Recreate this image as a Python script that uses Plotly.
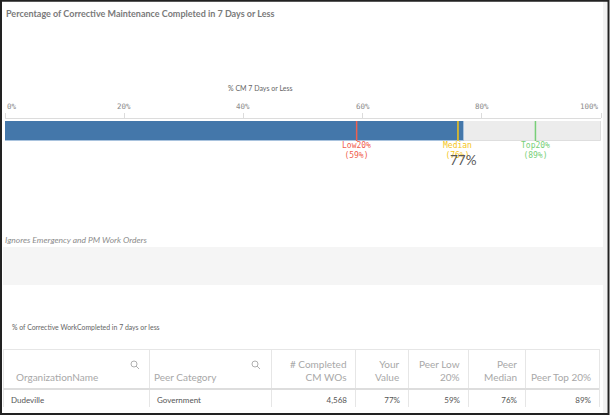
import plotly.graph_objects as go

W, H = 610, 416

# ---- data ----
title_text = "Percentage of Corrective Maintenance Completed in 7 Days or Less"
axis_title = "% CM 7 Days or Less"
tick_vals = [0, 20, 40, 60, 80, 100]
tick_text = ["0%", "20%", "40%", "60%", "80%", "100%"]
axis_max = 100
your_value = 77
ref_names = ["Low20%", "Median", "Top20%"]
ref_values = [59, 76, 89]
ref_colors = ["#f0604f", "#f5c518", "#78cf78"]
note_text = "Ignores Emergency and PM Work Orders"
table_title = "% of Corrective WorkCompleted in 7 days or less"

col_headers = ["OrganizationName", "Peer Category", "# Completed<br>CM WOs", "Your<br>Value",
               "Peer Low<br>20%", "Peer<br>Median", "Peer Top 20%"]
col_align = ["left", "left", "right", "right", "right", "right", "right"]
org_names = ["Dudeville"]
peer_categories = ["Government"]
completed_wos = [4568]
your_values = [77]
peer_low = [59]
peer_median = [76]
peer_top = [89]


def px(x):
    return x / W


def py(y):
    return 1 - y / H


fig = go.Figure()

# track and value bars
fig.add_trace(go.Bar(x=[axis_max], y=[0], orientation="h", width=1,
                     marker=dict(color="#ececec", line=dict(color="#dedede", width=1)),
                     hoverinfo="skip", showlegend=False))
fig.add_trace(go.Bar(x=[your_value], y=[0], orientation="h", width=1,
                     marker=dict(color="#4477aa", line=dict(color="#a9c3de", width=1)),
                     hoverinfo="skip", showlegend=False))

shapes = []
annotations = []

# reference lines and labels
for name, v, c in zip(ref_names, ref_values, ref_colors):
    shapes.append(dict(type="line", xref="x", yref="y", x0=v, x1=v, y0=-0.5, y1=0.5,
                       line=dict(color=c, width=1.5), layer="above"))
    annotations.append(dict(xref="x", yref="paper", x=v, y=py(151), text=f"{name}<br>({v}%)",
                            showarrow=False, xanchor="center", yanchor="middle",
                            font=dict(family="DejaVu Sans Mono", size=8, color=c)))

# value label
annotations.append(dict(xref="x", yref="paper", x=your_value, y=py(160), text=f"{your_value}%",
                        showarrow=False, xanchor="center", yanchor="middle",
                        font=dict(family="Lato", size=13.5, color="#595959")))

# tick labels
for v, t in zip(tick_vals, tick_text):
    anchor = "left" if v == tick_vals[0] else ("right" if v == tick_vals[-1] else "center")
    annotations.append(dict(xref="x", yref="paper", x=v, y=py(106), text=t, showarrow=False,
                            xanchor=anchor, yanchor="middle",
                            font=dict(family="DejaVu Sans Mono", size=7.5, color="#8a8a8a")))

# texts
annotations.append(dict(xref="paper", yref="paper", x=px(260), y=py(88), text=axis_title,
                        showarrow=False, xanchor="center", yanchor="middle",
                        font=dict(family="Lato", size=7, color="#666666")))
annotations.append(dict(xref="paper", yref="paper", x=px(4), y=py(13), text=f"<b>{title_text}</b>",
                        showarrow=False, xanchor="left", yanchor="middle",
                        font=dict(family="Lato", size=9, color="#7a7a7a")))
annotations.append(dict(xref="paper", yref="paper", x=px(3), y=py(240), text=f"<i>{note_text}</i>",
                        showarrow=False, xanchor="left", yanchor="middle",
                        font=dict(family="Lato", size=8.5, color="#8c8c8c")))
annotations.append(dict(xref="paper", yref="paper", x=px(10), y=py(327), text=table_title,
                        showarrow=False, xanchor="left", yanchor="middle",
                        font=dict(family="Lato", size=6.9, color="#666666")))

# grey band
shapes.append(dict(type="rect", xref="paper", yref="paper", x0=px(3), x1=px(604), y0=py(285), y1=py(247),
                   fillcolor="#f5f5f5", line=dict(width=0), layer="below"))

# table
col_edges = [3, 149, 271, 355, 408, 468, 525, 599]
col_widths = [b - a for a, b in zip(col_edges[:-1], col_edges[1:])]
fig.add_trace(go.Table(
    domain=dict(x=[px(col_edges[0]), px(col_edges[-1])], y=[py(408), py(349)]),
    columnwidth=col_widths,
    header=dict(values=[""] * len(col_headers), height=40,
                fill=dict(color="white"), line=dict(color="#e6e6e6", width=1)),
    cells=dict(values=[org_names, peer_categories,
                       [f"{v:,}" for v in completed_wos],
                       [f"{v}%" for v in your_values],
                       [f"{v}%" for v in peer_low],
                       [f"{v}%" for v in peer_median],
                       [f"{v}%" for v in peer_top]],
               height=18, align=col_align,
               fill=dict(color="white"), line=dict(color="#e6e6e6", width=1),
               font=dict(family="Lato", size=8, color="#555555"))
))

# header labels (bottom-aligned, each line aligned like the column)
for i, (h, a) in enumerate(zip(col_headers, col_align)):
    if a == "left":
        x = col_edges[i] + (11 if i == 0 else 3)
    else:
        x = col_edges[i + 1] - 6
    annotations.append(dict(xref="paper", yref="paper", x=px(x), y=py(385), text=h, showarrow=False,
                            xanchor=a, yanchor="bottom", align=a,
                            font=dict(family="Lato", size=10, color="#a8a8a8")))

# search icons
for cx in [134, 255]:
    shapes.append(dict(type="circle", xref="paper", yref="paper", x0=px(cx - 3), x1=px(cx + 3),
                       y0=py(367), y1=py(361), line=dict(color="#b0b0b0", width=1)))
    shapes.append(dict(type="line", xref="paper", yref="paper", x0=px(cx + 2), x1=px(cx + 5),
                       y0=py(366), y1=py(369), line=dict(color="#b0b0b0", width=1)))

# header separator
shapes.append(dict(type="line", xref="paper", yref="paper", x0=px(3), x1=px(599), y0=py(389), y1=py(389),
                   line=dict(color="#dddddd", width=2)))

# scrollbar strip & frame
shapes.append(dict(type="rect", xref="paper", yref="paper", x0=px(603), x1=px(607), y0=py(413), y1=py(1),
                   fillcolor="#f2f2f2", line=dict(width=0)))
shapes.append(dict(type="rect", xref="paper", yref="paper", x0=px(1), x1=px(608.5), y0=py(414), y1=py(0.8),
                   line=dict(color="#222222", width=2), fillcolor="rgba(0,0,0,0)"))

fig.update_layout(
    width=W, height=H, margin=dict(l=0, r=0, t=0, b=0),
    paper_bgcolor="white", plot_bgcolor="white",
    barmode="overlay", bargap=0,
    showlegend=False,
    xaxis=dict(domain=[px(5), px(601)], range=[0, axis_max], anchor="free", position=py(118),
               side="top", showline=True, linecolor="#dcdcdc", linewidth=1,
               ticks="outside", ticklen=5, tickcolor="#dcdcdc", tickvals=tick_vals,
               showticklabels=False, showgrid=False, zeroline=False, fixedrange=True),
    yaxis=dict(domain=[py(141), py(121)], range=[-0.5, 0.5], visible=False, fixedrange=True),
    shapes=shapes, annotations=annotations,
)

fig.write_html("out.html", config={"displayModeBar": False},
               post_script="document.body.style.margin='0px';document.body.style.overflow='hidden';")
